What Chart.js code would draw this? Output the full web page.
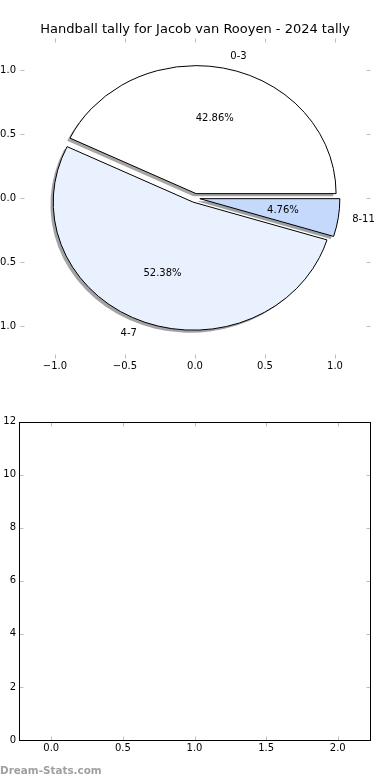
<!DOCTYPE html>
<html>
<head>
<meta charset="utf-8">
<script src="https://cdn.jsdelivr.net/npm/chart.js@4.4.1/dist/chart.umd.min.js"></script>
<style>
    html, body { margin: 0; padding: 0; background: #fff; width: 390px; height: 780px; overflow: hidden; position: relative; }
    canvas { position: absolute; left: -30px; }
    #graficoPizza { top: 0; }
    #graficoVazio { top: 390px; }
    #marca { position: absolute; left: 0; top: 764px; font: bold 10.4px "DejaVu Sans"; color: #a0a0a0; white-space: nowrap; }
</style>
</head>
<body>
<canvas id="graficoPizza" width="450" height="390"></canvas>
<canvas id="graficoVazio" width="420" height="390"></canvas>
<div id="marca">Dream-Stats.com</div>
<script>
    const titulo = 'Handball tally for Jacob van Rooyen - 2024 tally';
    const categorias = ['0-3', '4-7', '8-11'];
    const valores = [9, 11, 1];
    const coresFatias = ['#ffffff', '#eaf1fe', '#c5d9fd'];

    const ticksPizzaX = [-1.0, -0.5, 0.0, 0.5, 1.0];
    const ticksPizzaY = [-1.0, -0.5, 0.0, 0.5, 1.0];
    const ticksVazioX = [0.0, 0.5, 1.0, 1.5, 2.0];
    const ticksVazioY = [0, 2, 4, 6, 8, 10, 12];

    const fonte = { family: '"DejaVu Sans"', size: 10 };
    const formatar = v => v.toFixed(1).replace('-', '\u2212');

    // sombra estilo matplotlib: cor * 0.3 com alpha 0.5
    function corSombra(hex) {
        const n = parseInt(hex.slice(1), 16);
        const r = Math.round(((n >> 16) & 255) * 0.3);
        const g = Math.round(((n >> 8) & 255) * 0.3);
        const b = Math.round((n & 255) * 0.3);
        return `rgba(${r}, ${g}, ${b}, 0.5)`;
    }

    // 🔹 desenha as fatias usando as escalas x/y do gráfico (elipse, como no original)
    const pluginPizza = {
        id: 'pizza',
        afterDatasetsDraw(chart) {
            const { ctx, scales: { x, y } } = chart;
            const total = valores.reduce((a, b) => a + b, 0);
            const ux = x.getPixelForValue(1) - x.getPixelForValue(0);
            const uy = y.getPixelForValue(0) - y.getPixelForValue(1);
            const explode = 0.035;
            let ang = 0;
            const fatias = valores.map((v, i) => {
                const a1 = ang, a2 = ang + v / total * 2 * Math.PI;
                ang = a2;
                const meio = (a1 + a2) / 2;
                return { i, a1, a2, meio, cx: explode * Math.cos(meio), cy: explode * Math.sin(meio), pct: v / total * 100 };
            });
            const caminho = (f, dx, dy) => {
                const px = x.getPixelForValue(f.cx + dx), py = y.getPixelForValue(f.cy + dy);
                ctx.beginPath();
                ctx.moveTo(px, py);
                ctx.ellipse(px, py, ux, uy, 0, -f.a1, -f.a2, true);
                ctx.closePath();
            };
            ctx.save();
            fatias.forEach(f => {
                caminho(f, -0.02, -0.02);
                ctx.fillStyle = corSombra(coresFatias[f.i]);
                ctx.fill();
            });
            fatias.forEach(f => {
                caminho(f, 0, 0);
                ctx.fillStyle = coresFatias[f.i];
                ctx.fill();
                ctx.lineWidth = 1;
                ctx.strokeStyle = '#000';
                ctx.stroke();
            });
            ctx.font = '10px "DejaVu Sans"';
            ctx.fillStyle = '#000';
            ctx.textBaseline = 'middle';
            fatias.forEach(f => {
                const lx = f.cx + 1.1 * Math.cos(f.meio), ly = f.cy + 1.1 * Math.sin(f.meio);
                ctx.textAlign = lx > 0 ? 'left' : 'right';
                ctx.fillText(categorias[f.i], x.getPixelForValue(lx), y.getPixelForValue(ly));
                const tx = f.cx + 0.6 * Math.cos(f.meio), ty = f.cy + 0.6 * Math.sin(f.meio);
                ctx.textAlign = 'center';
                ctx.fillText(f.pct.toFixed(2) + '%', x.getPixelForValue(tx), y.getPixelForValue(ty));
            });
            ctx.restore();
        }
    };

    // 🔹 marcas dos ticks para dentro, nos quatro lados
    const pluginMarcas = {
        id: 'marcas',
        afterDraw(chart, args, opts) {
            const { ctx, chartArea: a, scales: { x, y } } = chart;
            const L = Math.round(a.left) + 0.5, R = Math.round(a.right) + 0.5;
            const T = Math.round(a.top) + 0.5, B = Math.round(a.bottom) + 0.5;
            const linha = (x1, y1, x2, y2) => { ctx.beginPath(); ctx.moveTo(x1, y1); ctx.lineTo(x2, y2); ctx.stroke(); };
            ctx.save();
            ctx.strokeStyle = '#bdbdbd';
            ctx.lineWidth = 1;
            x.ticks.forEach(t => {
                const px = Math.round(x.getPixelForValue(t.value)) + 0.5;
                linha(px, T, px, T + 4);
                linha(px, B, px, B - 4);
            });
            y.ticks.forEach(t => {
                const py = Math.round(y.getPixelForValue(t.value)) + 0.5;
                linha(L, py, L + 4, py);
                linha(R, py, R - 4, py);
            });
            if (opts.moldura) {
                ctx.strokeStyle = '#000';
                ctx.strokeRect(L, T, R - L, B - T);
            }
            ctx.restore();
        }
    };

    function eixo(min, max, valoresTicks, fmt, padding, fit) {
        return {
            type: 'linear',
            min, max,
            afterBuildTicks: s => { s.ticks = valoresTicks.map(v => ({ value: v })); },
            afterFit: fit,
            grid: { display: false, drawTicks: false },
            border: { display: false },
            ticks: { font: fonte, color: '#000', padding, autoSkip: false, maxRotation: 0, callback: v => fmt(v) }
        };
    }

    const comum = {
        responsive: false,
        maintainAspectRatio: false,
        animation: false,
        devicePixelRatio: 1,
        events: []
    };

    new Chart(document.getElementById('graficoPizza').getContext('2d'), {
        type: 'scatter',
        data: { datasets: [{ data: [] }] },
        plugins: [pluginPizza, pluginMarcas],
        options: {
            ...comum,
            layout: { padding: 0 },
            plugins: {
                legend: { display: false },
                tooltip: { enabled: false },
                title: {
                    display: true,
                    text: titulo,
                    color: '#000',
                    font: { family: '"DejaVu Sans"', size: 13, weight: 'normal' },
                    padding: { top: 22.2, bottom: 0.2 }
                },
                marcas: { moldura: false }
            },
            scales: {
                x: eixo(-1.25, 1.25, ticksPizzaX, formatar, 2, s => { s.height = 32; }),
                y: eixo(-1.25, 1.25, ticksPizzaY, formatar, 4, s => { s.width = 50; }),
                // eixo vazio à direita, só para o título ficar centrado na área do gráfico
                y2: {
                    position: 'right',
                    grid: { display: false, drawTicks: false },
                    border: { display: false },
                    ticks: { display: false },
                    afterFit: s => { s.width = 50; }
                }
            }
        }
    });

    new Chart(document.getElementById('graficoVazio').getContext('2d'), {
        type: 'scatter',
        data: { datasets: [{ data: [] }] },
        plugins: [pluginMarcas],
        options: {
            ...comum,
            layout: { padding: { top: 31.5, right: 20, bottom: 0, left: 0 } },
            plugins: {
                legend: { display: false },
                tooltip: { enabled: false },
                title: { display: false },
                marcas: { moldura: true }
            },
            scales: {
                x: eixo(-0.225, 2.225, ticksVazioX, v => v.toFixed(1), 2, s => { s.height = 40; }),
                y: eixo(0, 12, ticksVazioY, v => String(v), 3, s => { s.width = 49; })
            }
        }
    });
</script>
</body>
</html>
